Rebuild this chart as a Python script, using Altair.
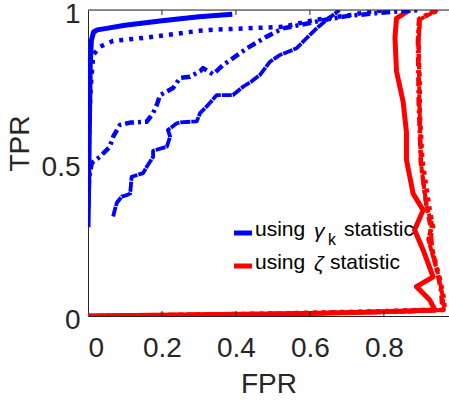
import altair as alt
import pandas as pd

# ---- data (FPR, TPR) ----
blue_solid_x = [0.0, 0.002, 0.004, 0.006, 0.009, 0.015, 0.025, 0.05, 0.1, 0.2, 0.3, 0.39]
blue_solid_y = [0.29, 0.45, 0.65, 0.82, 0.90, 0.928, 0.935, 0.94, 0.95, 0.965, 0.978, 0.986]

blue_dot_x = [0.0, 0.003, 0.006, 0.01, 0.014, 0.032, 0.068, 0.159, 0.30, 0.33, 0.527, 0.61, 0.71, 0.76, 0.816]
blue_dot_y = [0.40, 0.60, 0.72, 0.79, 0.853, 0.88, 0.899, 0.91, 0.932, 0.935, 0.945, 0.967, 0.984, 0.994, 1.0]

blue_dashdot_x = [0.0, 0.003, 0.01, 0.032, 0.059, 0.068, 0.086, 0.114, 0.159, 0.176, 0.186, 0.195, 0.23, 0.249,
                  0.276, 0.303, 0.311, 0.338, 0.365, 0.43, 0.483, 0.527, 0.59, 0.635, 0.70, 0.80, 0.90]
blue_dashdot_y = [0.35, 0.45, 0.50, 0.52, 0.553, 0.586, 0.624, 0.632, 0.635, 0.663, 0.69, 0.722, 0.745, 0.778,
                  0.782, 0.80, 0.81, 0.79, 0.82, 0.875, 0.913, 0.94, 0.955, 0.967, 0.98, 0.992, 1.0]

blue_dash_x = [0.068, 0.072, 0.078, 0.091, 0.105, 0.114, 0.118, 0.149, 0.16, 0.176, 0.176, 0.213, 0.222, 0.216,
               0.24, 0.25, 0.294, 0.303, 0.325, 0.348, 0.392, 0.42, 0.44, 0.465, 0.492, 0.519, 0.564, 0.59, 0.618,
               0.645, 0.68]
blue_dash_y = [0.325, 0.345, 0.37, 0.39, 0.395, 0.40, 0.455, 0.467, 0.49, 0.52, 0.54, 0.553, 0.586, 0.608,
               0.63, 0.633, 0.636, 0.663, 0.69, 0.722, 0.722, 0.75, 0.765, 0.788, 0.831, 0.853, 0.875, 0.907, 0.94,
               0.967, 1.0]

red_solid_x = [0.0, 0.3, 0.6, 0.8, 0.9, 0.938, 0.924, 0.888, 0.933, 0.906, 0.883, 0.906, 0.879, 0.861, 0.861,
               0.852, 0.834, 0.83, 0.834, 0.87]
red_solid_y = [0.0, 0.004, 0.008, 0.014, 0.018, 0.02, 0.052, 0.096, 0.128, 0.216, 0.281, 0.346, 0.40, 0.51,
               0.60, 0.70, 0.80, 0.91, 0.973, 1.0]

red_dot_x = [0.0, 0.5, 0.8, 0.9, 0.965, 0.96, 0.95, 0.924, 0.933, 0.924, 0.904, 0.897, 0.897, 0.893, 0.897, 0.95]
red_dot_y = [0.0, 0.008, 0.016, 0.02, 0.02, 0.075, 0.128, 0.248, 0.29, 0.346, 0.51, 0.668, 0.745, 0.91, 0.973, 1.0]

red_dashdot_x = [0.0, 0.5, 0.85, 0.958, 0.955, 0.945, 0.93, 0.925, 0.915, 0.9, 0.894, 0.892, 0.895, 0.94]
red_dashdot_y = [0.0, 0.007, 0.015, 0.02, 0.08, 0.14, 0.22, 0.30, 0.36, 0.5, 0.7, 0.9, 0.97, 1.0]

red_dash_x = [0.0, 0.5, 0.85, 0.962, 0.958, 0.948, 0.92, 0.93, 0.915, 0.9, 0.896, 0.894, 0.898, 0.945]
red_dash_y = [0.0, 0.006, 0.014, 0.02, 0.07, 0.13, 0.25, 0.30, 0.36, 0.5, 0.7, 0.9, 0.97, 1.0]

x_ticks = [0, 0.2, 0.4, 0.6, 0.8]
y_ticks = [0, 0.5, 1]

BLUE = "#0000FF"
RED = "#FF0000"
AX = "#262626"
FONT = "Liberation Sans"
W, H = 361, 306
XMAX = 0.976

xs = alt.Scale(domain=[0, XMAX], nice=False, zero=False)
ys = alt.Scale(domain=[0, 1], nice=False, zero=False)

x_axis = alt.Axis(values=x_ticks, format="~g", ticks=False, grid=False, domainColor=AX, domainWidth=1,
                  labelFont=FONT, labelFontSize=28, labelColor=AX, labelPadding=18,
                  titleFont=FONT, titleFontSize=28, titleFontWeight="normal", titleColor=AX, titlePadding=8)
y_axis = alt.Axis(values=y_ticks, format="~g", ticks=False, grid=False, domainColor=AX, domainWidth=1,
                  labelFont=FONT, labelFontSize=28, labelColor=AX, labelPadding=8, labelBaseline="middle",
                  labelOffset=4, labelBound=False, labelOverlap=False,
                  titleFont=FONT, titleFontSize=28, titleFontWeight="normal", titleColor=AX,
                  titleX=-68, titleY=133, titleAngle=-90, titleBaseline="middle", titleAlign="center")

X = lambda f: alt.X(f, scale=xs, axis=x_axis, title="FPR")
Y = lambda f: alt.Y(f, scale=ys, axis=y_axis, title="TPR")


def curve(xv, yv, color, width, dash=None):
    df = pd.DataFrame({"FPR": xv, "TPR": yv, "i": list(range(len(xv)))})
    kw = dict(color=color, strokeWidth=width, clip=True, strokeCap="butt", strokeJoin="round")
    if dash:
        kw["strokeDash"] = dash
    return alt.Chart(df).mark_line(**kw).encode(x=X("FPR:Q"), y=Y("TPR:Q"), order="i:Q")


layers = [
    curve(red_solid_x, red_solid_y, RED, 5),
    curve(red_dash_x, red_dash_y, RED, 4, [7, 1]),
    curve(red_dashdot_x, red_dashdot_y, RED, 4.5, [9, 4, 3, 4]),
    curve(red_dot_x, red_dot_y, RED, 4.5, [4, 5]),
    curve(blue_solid_x, blue_solid_y, BLUE, 5),
    curve(blue_dot_x, blue_dot_y, BLUE, 4.5, [4, 6]),
    curve(blue_dashdot_x, blue_dashdot_y, BLUE, 4.5, [9, 4, 3, 4]),
    curve(blue_dash_x, blue_dash_y, BLUE, 3.8, [10, 1]),
]

# box top line and inward ticks
tick_df = pd.DataFrame({"FPR": x_ticks[1:]})
top_line = alt.Chart(pd.DataFrame({"a": [0]})).mark_rule(color=AX, strokeWidth=1).encode(
    x=alt.value(0), x2=alt.value(W), y=alt.value(0))
top_ticks = alt.Chart(tick_df).mark_rule(color=AX, strokeWidth=1).encode(
    x=X("FPR:Q"), y=alt.value(0), y2=alt.value(5))
bot_ticks = alt.Chart(tick_df).mark_rule(color=AX, strokeWidth=1).encode(
    x=X("FPR:Q"), y=alt.value(H), y2=alt.value(H - 5))
left_ticks = alt.Chart(pd.DataFrame({"TPR": [0.5]})).mark_rule(color=AX, strokeWidth=1).encode(
    y=Y("TPR:Q"), x=alt.value(0), x2=alt.value(5))

# legend
LX = 146  # legend line start (plot coords)
legend = []
for yy, col in [(223, BLUE), (256, RED)]:
    legend.append(alt.Chart(pd.DataFrame({"a": [0]})).mark_rule(color=col, strokeWidth=5).encode(
        x=alt.value(LX), x2=alt.value(LX + 18), y=alt.value(yy)))


def txt(s, x, y, size=21, style="normal"):
    return alt.Chart(pd.DataFrame({"a": [0]})).mark_text(
        text=s, font=FONT, fontSize=size, color="#000000", align="left", baseline="middle",
        fontStyle=style).encode(x=alt.value(x), y=alt.value(y))


legend += [
    txt("using", 167, 220),
    txt("γ", 226, 222, 21, "italic"),
    txt("k", 240, 230, 16),
    txt("statistic", 256, 220),
    txt("using", 167, 253),
    txt("ζ", 226, 255, 21, "italic"),
    txt("statistic", 242, 253),
]

chart = alt.layer(*layers, top_line, top_ticks, bot_ticks, left_ticks, *legend).properties(
    width=W, height=H,
    padding={"left": 88, "top": 10, "right": 0, "bottom": 88},
    autosize=alt.AutoSizeParams(type="none"),
).configure_view(stroke=None).configure(background="white")

chart.save("out.html", embed_options={"renderer": "svg", "actions": False})
